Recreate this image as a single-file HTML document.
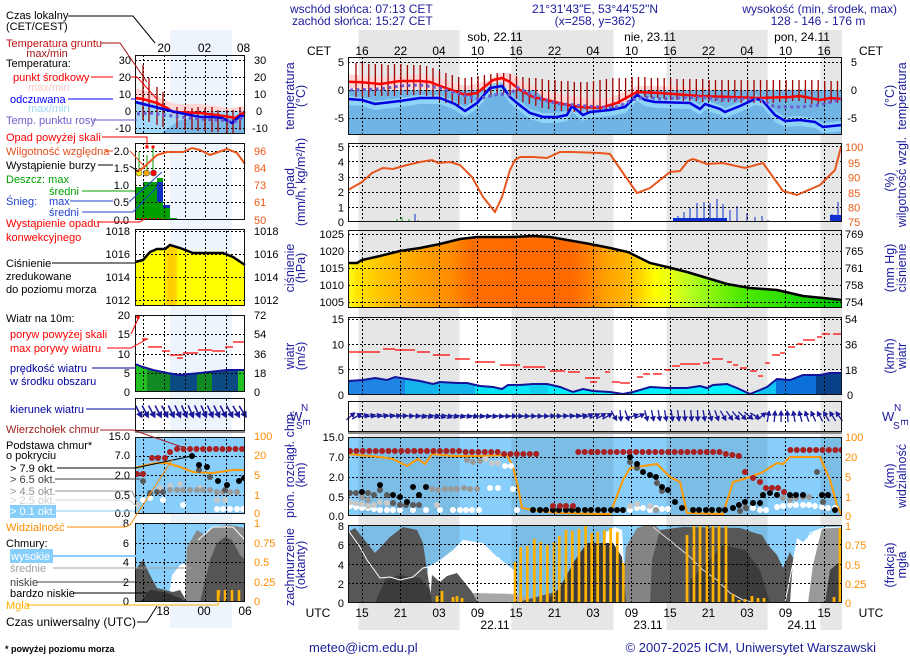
<!DOCTYPE html>
<html><head><meta charset="utf-8"><style>
html,body{margin:0;padding:0;background:#fff}
svg{display:block}
text{font-family:"Liberation Sans",Arial,sans-serif;font-size:11px}
.n{fill:#1c1c9c}
.h{font-size:12px}
.at{font-size:12.5px;fill:#1c1c9c}
.g{fill:none;stroke:#000;stroke-width:1;stroke-dasharray:2 2}
.fr{fill:none;stroke:#111;stroke-width:1}
.ln{fill:none;stroke-width:1}
</style></head><body>
<svg width="910" height="660" viewBox="0 0 910 660" xmlns="http://www.w3.org/2000/svg">
<defs>
<clipPath id="cm">
<rect x="348" y="57" width="494" height="78"/><rect x="348" y="143" width="494" height="79"/><rect x="348" y="230" width="494" height="78"/><rect x="348" y="317" width="494" height="78"/><rect x="348" y="401" width="494" height="31"/><rect x="348" y="437" width="494" height="79"/><rect x="348" y="525" width="494" height="78"/>
</clipPath>
<clipPath id="cs">
<rect x="135" y="55" width="110" height="79"/><rect x="135" y="143" width="110" height="77"/><rect x="135" y="229" width="110" height="77"/><rect x="135" y="315" width="110" height="77"/><rect x="135" y="398" width="110" height="33"/><rect x="135" y="437" width="110" height="77"/><rect x="135" y="523" width="110" height="79"/>
</clipPath>
<linearGradient id="pg" gradientUnits="userSpaceOnUse" x1="348" y1="0" x2="842" y2="0">
<stop offset="0" stop-color="#ffff20"/><stop offset="0.018" stop-color="#ffe400"/><stop offset="0.065" stop-color="#ffc400"/><stop offset="0.13" stop-color="#ffa800"/><stop offset="0.207" stop-color="#ff8c00"/><stop offset="0.253" stop-color="#ff6c00"/><stop offset="0.455" stop-color="#ff6a00"/><stop offset="0.49" stop-color="#ff8400"/><stop offset="0.52" stop-color="#ffa000"/><stop offset="0.567" stop-color="#ffb800"/><stop offset="0.597" stop-color="#ffdc00"/><stop offset="0.621" stop-color="#ffff00"/><stop offset="0.652" stop-color="#e8ff10"/><stop offset="0.692" stop-color="#b8ff20"/><stop offset="0.737" stop-color="#88f510"/><stop offset="0.794" stop-color="#50ea00"/><stop offset="0.875" stop-color="#30e000"/><stop offset="0.925" stop-color="#18d400"/><stop offset="1" stop-color="#00c000"/>
</linearGradient>
<linearGradient id="wg" gradientUnits="userSpaceOnUse" x1="348" y1="0" x2="842" y2="0">
<stop offset="0" stop-color="#1f84e2"/><stop offset="0.115" stop-color="#1f84e2"/><stop offset="0.115" stop-color="#14b4ec"/><stop offset="0.257" stop-color="#14b4ec"/><stop offset="0.257" stop-color="#00e6f8"/><stop offset="0.368" stop-color="#00e6f8"/><stop offset="0.368" stop-color="#10d0f0"/><stop offset="0.405" stop-color="#10d0f0"/><stop offset="0.405" stop-color="#00eefe"/><stop offset="0.83" stop-color="#00f2ff"/><stop offset="0.83" stop-color="#10c4f2"/><stop offset="0.866" stop-color="#10c4f2"/><stop offset="0.866" stop-color="#0a70d8"/><stop offset="0.947" stop-color="#0a70d8"/><stop offset="0.947" stop-color="#0a3f8a"/><stop offset="1" stop-color="#0a3f8a"/>
</linearGradient>
<linearGradient id="swg" gradientUnits="userSpaceOnUse" x1="135" y1="0" x2="245" y2="0">
<stop offset="0" stop-color="#22c022"/><stop offset="0.11" stop-color="#22c022"/><stop offset="0.11" stop-color="#118a22"/><stop offset="0.318" stop-color="#118a22"/><stop offset="0.318" stop-color="#0c4a84"/><stop offset="0.564" stop-color="#0c4a84"/><stop offset="0.564" stop-color="#118a22"/><stop offset="0.7" stop-color="#118a22"/><stop offset="0.7" stop-color="#0c4a84"/><stop offset="0.936" stop-color="#0c4a84"/><stop offset="0.936" stop-color="#22c022"/><stop offset="1" stop-color="#22c022"/>
</linearGradient>
<linearGradient id="spg" gradientUnits="userSpaceOnUse" x1="135" y1="0" x2="245" y2="0">
<stop offset="0" stop-color="#ffff00"/><stop offset="0.26" stop-color="#ffff00"/><stop offset="0.3" stop-color="#ffd000"/><stop offset="0.36" stop-color="#ffd000"/><stop offset="0.4" stop-color="#ffff00"/><stop offset="1" stop-color="#ffff00"/>
</linearGradient>
<g id="a"><path d="M-6,0H2" stroke="#1a1a9a" stroke-width="1.3"/><path d="M6,0L0.5,-3L0.5,3Z" fill="#1a1a9a"/></g>
</defs>

<!-- background bands -->
<rect x="170" y="30" width="62" height="598" fill="#eef4fc"/>
<g fill="#e6e6e6">
<rect x="358.5" y="30" width="101" height="600"/><rect x="511.5" y="30" width="102" height="600"/><rect x="666.5" y="30" width="101" height="600"/><rect x="820.5" y="30" width="21.5" height="600"/>
</g>

<!-- header -->
<text class="n h" x="290" y="13">wschód słońca: 07:13 CET</text>
<text class="n h" x="292" y="25">zachód słońca: 15:27 CET</text>
<text class="n h" x="595" y="13" text-anchor="middle">21°31'43"E, 53°44'52"N</text>
<text class="n h" x="595" y="25" text-anchor="middle">(x=258, y=362)</text>
<text class="n h" x="897" y="13" text-anchor="end">wysokość (min, środek, max)</text>
<text class="n h" x="818" y="25" text-anchor="middle">128 - 146 - 176 m</text>
<g class="h" text-anchor="middle">
<text x="495" y="41" class="h">sob, 22.11</text><text x="650" y="41" class="h">nie, 23.11</text><text x="802" y="41" class="h">pon, 24.11</text>
<text x="319" y="55" class="h">CET</text><text x="871" y="55" class="h">CET</text>
<text x="362" y="55" class="h">16</text><text x="400.5" y="55" class="h">22</text><text x="439" y="55" class="h">04</text><text x="477.5" y="55" class="h">10</text><text x="516" y="55" class="h">16</text><text x="554.5" y="55" class="h">22</text><text x="593" y="55" class="h">04</text><text x="631.5" y="55" class="h">10</text><text x="670" y="55" class="h">16</text><text x="708.5" y="55" class="h">22</text><text x="747" y="55" class="h">04</text><text x="785.5" y="55" class="h">10</text><text x="824" y="55" class="h">16</text>
<text x="318" y="617" class="h">UTC</text><text x="871" y="617" class="h">UTC</text>
<text x="362" y="617" class="h">15</text><text x="400.5" y="617" class="h">21</text><text x="439" y="617" class="h">03</text><text x="477.5" y="617" class="h">09</text><text x="516" y="617" class="h">15</text><text x="554.5" y="617" class="h">21</text><text x="593" y="617" class="h">03</text><text x="631.5" y="617" class="h">09</text><text x="670" y="617" class="h">15</text><text x="708.5" y="617" class="h">21</text><text x="747" y="617" class="h">03</text><text x="785.5" y="617" class="h">09</text><text x="824" y="617" class="h">15</text>
<text x="495" y="629" class="h">22.11</text><text x="648" y="629" class="h">23.11</text><text x="802" y="629" class="h">24.11</text>
</g>

<!-- ============ MAIN FILLS ============ -->
<polygon fill="#ffd6d6" points="348,74 380,77 420,74 440,78 465,86 490,80 500,73 510,73 520,80 545,92 600,100 617,95 637,86 660,86 700,88 760,90 800,89 842,91 842,104 800,103 760,103 700,101 660,98 637,97 617,110 600,114 560,110 530,100 515,92 500,86 490,93 465,100 440,92 420,87 380,90 348,88"/>
<polygon fill="#70b4e6" points="348,90 535,90 545,99 560,104 600,108 617,108 630,100 637,92 640,90 842,90 842,135 348,135"/>
<polygon fill="#8fd3f8" points="348,96 362,97 375,101 400,98 420,95 440,95 455,101 465,107 477,99 490,84 502,82 510,93 517,99 530,109 543,113 557,113 567,111 572,102 583,111 590,108 610,106 625,103 637,91 645,96 655,98 690,99 700,105 705,100 720,105 725,108 740,102 755,95 762,96 775,111 785,117 800,116 815,118 823,123 842,121 842,131 823,133 815,128 800,126 785,127 775,122 762,106 755,105 740,112 725,118 720,115 705,110 700,115 690,109 655,108 645,106 637,101 625,113 610,116 590,118 583,121 572,112 567,121 557,123 543,123 530,119 517,109 510,103 502,92 490,94 477,109 465,117 455,110 440,104 420,104 400,107 375,110 362,106 348,105"/>
<path stroke="#1a9a1a" stroke-width="1" d="M397 219V222M402 217V222M409 219V222M418 220V222"/>
<path stroke="#1030d0" stroke-width="1" d="M415 214V222M678 216V222M684 212V222M690 208V222M697 203V222M704 202V222M710 203V222M717 199V222M723 204V222M730 210V222M737 206V222M747 213V222M755 217V222M762 216V222M768 220V222M832 214V222M838 202V222"/>
<rect x="673" y="218" width="54" height="4" fill="#1030d0"/><rect x="830" y="215" width="12" height="7" fill="#1030d0"/>
<polygon fill="url(#pg)" points="348,263 357,263 362,260 380,256 400,251 420,248 440,244 460,239 477,237 500,237 513,237 533,236 550,237 573,241 590,244 610,248 628,252 650,263 667,267 687,272 707,278 727,284 750,288 777,290 803,296 823,298 842,300 842,308 348,308"/>
<polygon fill="url(#wg)" points="348,381 363,380 375,378 387,380 395,377 407,379 420,381 433,384 440,382 457,383 467,383 480,386 493,387 502,389 508,385 520,385 533,384 547,384 560,387 573,392 583,389 593,391 610,392 623,394 633,392 650,387 667,388 687,388 700,386 707,388 713,385 727,384 737,388 750,394 760,390 767,387 777,379 790,380 803,375 820,375 830,373 842,373 842,395 348,395"/>
<rect x="348" y="437" width="494" height="79" fill="#87cefa"/>
<rect x="348" y="525" width="494" height="78" fill="#87cefa"/>
<g fill="#000" fill-opacity="0.08">
<rect x="358.5" y="437" width="101" height="79"/><rect x="511.5" y="437" width="102" height="79"/><rect x="666.5" y="437" width="101" height="79"/><rect x="820.5" y="437" width="21.5" height="79"/>
<rect x="358.5" y="525" width="101" height="78"/><rect x="511.5" y="525" width="102" height="78"/><rect x="666.5" y="525" width="101" height="78"/><rect x="820.5" y="525" width="21.5" height="78"/>
</g>
<g clip-path="url(#cm)">
<polygon fill="#fff" points="425,603 428,567 440,560 453,550 463,540 483,543 495,555 510,567 516,572 518,603"/>
<polygon fill="#fff" points="603,603 606,532 615,527 622,530 626,603"/>
<polygon fill="#a8a8a8" points="440,603 455,597 473,593 513,594 530,598 540,603"/>
<polygon fill="#a8a8a8" points="622,603 628,570 640,560 650,575 655,603"/>
<polygon fill="#858585" points="622,603 626,547 637,528 653,523 667,537 680,560 690,603"/>
<polygon fill="#575757" points="348,532 355,528 375,553 390,537 403,527 417,530 423,543 428,577 432,603 348,603"/>
<polygon fill="#575757" points="430,603 432,575 440,582 447,576 457,573 465,583 472,592 478,603"/>
<polygon fill="#575757" points="515,603 540,596 563,590 580,570 595,545 605,543 612,560 618,603"/>
<polygon fill="#575757" points="650,603 652,560 660,530 683,527 740,528 755,533 762,535 768,545 777,555 783,568 790,552 793,558 800,547 805,555 810,548 815,540 822,528 842,527 842,603"/>
<polygon fill="#fff" points="790,603 793,560 797,538 803,542 810,535 817,530 822,528 825,603"/>
<polygon fill="#999" points="808,603 813,565 822,528 842,527 842,603"/>
<polygon fill="#3c3c3c" points="375,603 385,580 400,575 420,578 430,590 432,603"/>
<polygon fill="#3c3c3c" points="545,603 560,587 575,560 587,543 600,543 613,543 622,557 626,603"/>
<polygon fill="#3c3c3c" points="690,603 690,580 705,565 723,545 745,550 760,570 770,603"/>
<polygon fill="#444" points="825,603 830,570 842,560 842,603"/>
<polyline class="ln" stroke="#fff" points="348,530 360,547 367,560 380,578 390,577 400,580 413,577 423,568 440,565 470,560 500,558"/>
<polyline class="ln" stroke="#ddd" points="653,527 673,543 690,557 703,570 717,580 730,593 743,600 757,603"/>
<polyline class="ln" stroke="#fff" points="785,603 793,563 803,553 810,533 823,528 842,527"/>
</g>
<path stroke="#ffb300" stroke-width="2.7" d="M437 596V603M442 591V603M453 597V603M457 596V603M462 598V603M515 562V603M520.7 547V603M527.3 546V603M534.3 539V603M540.7 542V603M547.3 545V603M554 542V603M559.3 536V603M566 530V603M572.3 531V603M579 529V603M585.7 526V603M591.7 533V603M597.7 532V603M604.3 530V603M610.7 528V603M617.3 532V603M623.3 563V603M687 535V603M694 526V603M700 526V603M707 526V603M713 526V603M719 526V603M726 526V603M733 594V603M739 600V603M745 599V603M752 596V603M758 598V603M764 598V603M834 597V603M840 528V603"/>

<!-- ============ MINI FILLS ============ -->
<polygon fill="#ffd6d6" points="135,88 150,92 165,100 175,104 200,104 230,108 245,106 245,113 200,115 175,114 150,104 135,101"/>
<polygon fill="#a3d9f9" points="135,100 160,104 175,111 245,111 245,134 135,134"/>
<polygon fill="#78b8e8" points="160,134 180,120 210,118 245,118 245,134"/>
<path fill="#00a000" d="M135,220V187H143V182H157V178H163V220ZM163,220V207H170V218H177V220Z"/>
<rect x="157" y="182" width="6" height="20" fill="#1030c0"/><rect x="163" y="205" width="7" height="3" fill="#1030c0"/>
<polygon fill="url(#spg)" points="135,262 143,260 150,252 157,249 165,249 170,245 180,248 193,253 223,253 233,257 245,265 245,306 135,306"/>
<polygon fill="url(#swg)" points="135,364 143,367 153,370 167,373 180,375 200,373 227,370 245,370 245,392 135,392"/>
<rect x="135" y="437" width="110" height="77" fill="#87cefa"/>
<rect x="135" y="523" width="110" height="79" fill="#87cefa"/>
<polygon fill="#fff" points="168,602 172,575 180,565 188,562 195,602"/>
<polygon fill="#888" points="185,602 187,547 197,530 205,535 213,527 230,525 245,528 245,602"/>
<polygon fill="#555" points="135,602 135,570 143,560 150,575 157,588 165,590 173,592 180,590 187,602"/>
<polygon fill="#333" points="140,602 150,590 165,592 180,598 185,602"/>
<polygon fill="#555" points="200,602 210,560 217,543 225,537 232,540 240,555 245,560 245,602"/>
<polyline class="ln" stroke="#fff" points="198,540 213,527 233,527 245,540"/>
<path stroke="#ffb300" stroke-width="2.5" d="M218 590V602M225 590V602M232 590V602M239 590V602"/>

<!-- ============ GRIDS ============ -->
<path class="g" clip-path="url(#cm)" d="M362.5 57V603M400.5 57V603M439.5 57V603M477.5 57V603M516.5 57V603M554.5 57V603M593.5 57V603M631.5 57V603M670.5 57V603M708.5 57V603M747.5 57V603M785.5 57V603M824.5 57V603M348 62.5H842M348 90.5H842M348 118.5H842M348 146.5H842M348 161.5H842M348 177.5H842M348 192.5H842M348 207.5H842M348 234.5H842M348 251.5H842M348 268.5H842M348 285.5H842M348 302.5H842M348 319.5H842M348 344.5H842M348 369.5H842M348 457.5H842M348 477.5H842M348 497.5H842M348 544.5H842M348 564.5H842M348 583.5H842"/>
<path class="g" clip-path="url(#cs)" d="M143.5 55V602M164.5 55V602M185.5 55V602M205.5 55V602M226.5 55V602M135 60.5H245M135 77.5H245M135 94.5H245M135 111.5H245M135 128.5H245M135 151.5H245M135 168.5H245M135 185.5H245M135 202.5H245M135 231.5H245M135 254.5H245M135 277.5H245M135 300.5H245M135 334.5H245M135 354.5H245M135 373.5H245M135 456.5H245M135 475.5H245M135 495.5H245M135 543.5H245M135 562.5H245M135 582.5H245"/>

<!-- ============ MAIN LINES ============ -->
<path stroke="#a00000" stroke-width="1.3" d="M356 63V97M362.4 63V97M368.8 64V97M375.3 64V96M381.7 64V96M388.1 65V96M394.5 64V96M400.9 64V95M407.4 65V95M413.8 65V95M420.2 65V95M426.6 66V96M433 68V99M439.5 71V101M445.9 73V103M452.3 75V104M458.7 77V105M465.1 78V104M471.6 77V103M478 76V100M484.4 75V99M490.8 74V96M497.2 73V94M503.7 73V93M510.1 74V95M516.5 76V99M522.9 77V102M529.3 78V104M535.8 78V106M542.2 79V108M548.6 80V109M555 80V110M561.4 81V111M567.9 81V112M574.3 82V112M580.7 82V112M587.1 82V112M593.5 81V112M600 80V112M606.4 79V110M612.8 78V108M619.2 78V104M625.6 78V100M632.1 77V97M638.5 77V97M644.9 77V97M651.3 78V98M657.7 78V98M664.2 78V99M670.6 78V100M677 79V100M683.4 79V101M689.8 79V101M696.3 79V101M702.7 79V102M709.1 80V101M715.5 80V101M721.9 80V102M728.4 80V102M734.8 80V102M741.2 80V103M747.6 80V103M754 80V103M760.5 80V103M766.9 80V103M773.3 80V103M779.7 80V102M786.1 80V102M792.6 80V101M799 80V101M805.4 80V103M811.8 80V104M818.2 80V104M824.7 81V104M831.1 81V103M837.5 81V103"/>
<polyline fill="none" stroke="#ff0000" stroke-width="2.5" points="348,81.7 362,82.3 380,84 400,81 420,81 430,82 440,86 455,91 465,95 477,93 493,80 502,78 510,82 520,90 533,97 547,100 563,104 580,107 600,108 617,103 637,92 660,93 700,96 730,97 760,98 790,97 800,96 820,100 830,98 842,99"/>
<polyline fill="none" stroke="#0000e0" stroke-width="2.5" points="348,99 362,100 375,104 400,101 420,98 440,98 455,104 465,111 477,103 490,88 502,86 510,97 517,103 530,113 543,117 557,117 567,115 572,106 583,115 590,112 610,110 625,107 637,95 645,100 655,102 690,103 700,109 705,104 720,109 725,112 740,106 755,99 762,100 775,115 785,121 800,120 815,122 823,127 842,125"/>
<polyline fill="none" stroke="#6a5acd" stroke-width="3" stroke-dasharray="3 3.4" points="350,90 380,89 400,86 420,85 440,88 455,93 470,97 477,99 490,96 500,94 510,95 517,87 530,94 540,99 560,104 600,107 617,107 632,100 645,97 660,99 680,98 700,97 720,99 760,99 775,107 800,107 820,105 842,99"/>
<polyline fill="none" stroke="#e8561e" stroke-width="2" points="348,190 362,182 372,173 383,168 393,169 407,165 420,162 432,160 438,163 450,162 460,165 472,177 483,197 495,212 502,197 510,170 515,160 520,157 533,157 547,158 560,152 573,152 600,153 610,154 623,173 637,193 650,188 670,172 680,171 688,161 693,159 707,164 723,163 745,168 763,163 783,191 797,195 820,185 835,170 841,147"/>
<polyline fill="none" stroke="#000" stroke-width="2.5" points="348,263 357,263 362,260 380,256 400,251 420,248 440,244 460,239 477,237 500,237 513,237 533,236 550,237 573,241 590,244 610,248 628,252 650,263 667,267 687,272 707,278 727,284 750,288 777,290 803,296 823,298 842,300"/>
<path stroke="#ff0000" stroke-width="1.3" d="M348 352H380M383 349H395M395 350H415M417 352H430M433 355H450M455 359H470M475 362H495M500 365H520M523 367H545M550 371H565M568 372H580M585 378H600M590 382H597M605 372H610M612 382H620M620 383H630M637 377H643M643 374H650M653 374H662M665 370H670M672 366H680M680 364H690M690 364H700M703 363H710M712 359H717M717 359H723M727 362H732M733 365H738M740 368H747M750 371H757M758 376H763M765 363H770M772 355H780M780 353H785M788 347H795M797 344H803M803 340H815M817 337H822M822 334H830M833 334H841"/>
<polyline fill="none" stroke="#12129a" stroke-width="2" points="348,381 363,380 375,378 387,380 395,377 407,379 420,381 433,384 440,382 457,383 467,383 480,386 493,387 502,389 508,385 520,385 533,384 547,384 560,387 573,392 583,389 593,391 610,392 623,394 633,392 650,387 667,388 687,388 700,386 707,388 713,385 727,384 737,388 750,394 760,390 767,387 777,379 790,380 803,375 820,375 830,373 842,373"/>
<g>
<use href="#a" transform="translate(351,416) rotate(-40)"/><use href="#a" transform="translate(357.4,416) rotate(-30)"/><use href="#a" transform="translate(363.8,416) rotate(-15)"/><use href="#a" transform="translate(370.3,416) rotate(-15)"/><use href="#a" transform="translate(376.7,416) rotate(-15)"/><use href="#a" transform="translate(383.1,416) rotate(-12)"/><use href="#a" transform="translate(389.5,416) rotate(-10)"/><use href="#a" transform="translate(395.9,416) rotate(-8)"/><use href="#a" transform="translate(402.4,416) rotate(-5)"/><use href="#a" transform="translate(408.8,416) rotate(0)"/><use href="#a" transform="translate(415.2,416) rotate(5)"/>
<use href="#a" transform="translate(421.6,416) rotate(15)"/><use href="#a" transform="translate(428,416) rotate(15)"/><use href="#a" transform="translate(434.5,416) rotate(18)"/><use href="#a" transform="translate(440.9,416) rotate(18)"/><use href="#a" transform="translate(447.3,416) rotate(18)"/><use href="#a" transform="translate(453.7,416) rotate(15)"/><use href="#a" transform="translate(460.1,416) rotate(15)"/><use href="#a" transform="translate(466.6,416) rotate(12)"/><use href="#a" transform="translate(473,416) rotate(12)"/><use href="#a" transform="translate(479.4,416) rotate(10)"/><use href="#a" transform="translate(485.8,416) rotate(10)"/><use href="#a" transform="translate(492.2,416) rotate(8)"/><use href="#a" transform="translate(498.7,416) rotate(8)"/><use href="#a" transform="translate(505.1,416) rotate(6)"/><use href="#a" transform="translate(511.5,416) rotate(5)"/>
<use href="#a" transform="translate(517.9,416) rotate(5)"/><use href="#a" transform="translate(524.3,416) rotate(5)"/><use href="#a" transform="translate(530.8,416) rotate(3)"/><use href="#a" transform="translate(537.2,416) rotate(3)"/><use href="#a" transform="translate(543.6,416) rotate(3)"/><use href="#a" transform="translate(550,416) rotate(0)"/><use href="#a" transform="translate(556.4,416) rotate(0)"/><use href="#a" transform="translate(562.9,416) rotate(-3)"/><use href="#a" transform="translate(569.3,416) rotate(-5)"/><use href="#a" transform="translate(575.7,416) rotate(-8)"/><use href="#a" transform="translate(582.1,416) rotate(-12)"/><use href="#a" transform="translate(588.5,416) rotate(-25)"/><use href="#a" transform="translate(595,416) rotate(-25)"/><use href="#a" transform="translate(601.4,416) rotate(-28)"/><use href="#a" transform="translate(607.8,416) rotate(-30)"/>
<use href="#a" transform="translate(614.2,416) rotate(60)"/><use href="#a" transform="translate(620.6,416) rotate(85)"/><use href="#a" transform="translate(627.1,416) rotate(70)"/><use href="#a" transform="translate(633.5,416) rotate(-20)"/><use href="#a" transform="translate(639.9,416) rotate(-25)"/><use href="#a" transform="translate(646.3,416) rotate(75)"/><use href="#a" transform="translate(652.7,416) rotate(78)"/><use href="#a" transform="translate(659.2,416) rotate(80)"/><use href="#a" transform="translate(665.6,416) rotate(80)"/><use href="#a" transform="translate(672,416) rotate(82)"/><use href="#a" transform="translate(678.4,416) rotate(82)"/><use href="#a" transform="translate(684.8,416) rotate(85)"/><use href="#a" transform="translate(691.3,416) rotate(85)"/><use href="#a" transform="translate(697.7,416) rotate(88)"/><use href="#a" transform="translate(704.1,416) rotate(80)"/><use href="#a" transform="translate(710.5,416) rotate(75)"/><use href="#a" transform="translate(716.9,416) rotate(70)"/>
<use href="#a" transform="translate(723.4,416) rotate(60)"/><use href="#a" transform="translate(729.8,416) rotate(55)"/><use href="#a" transform="translate(736.2,416) rotate(50)"/><use href="#a" transform="translate(742.6,416) rotate(45)"/><use href="#a" transform="translate(749,416) rotate(40)"/><use href="#a" transform="translate(755.5,416) rotate(30)"/><use href="#a" transform="translate(761.9,416) rotate(-40)"/><use href="#a" transform="translate(768.3,416) rotate(-80)"/><use href="#a" transform="translate(774.7,416) rotate(-85)"/><use href="#a" transform="translate(781.1,416) rotate(-90)"/><use href="#a" transform="translate(787.6,416) rotate(-95)"/><use href="#a" transform="translate(794,416) rotate(-100)"/><use href="#a" transform="translate(800.4,416) rotate(-105)"/><use href="#a" transform="translate(806.8,416) rotate(-110)"/><use href="#a" transform="translate(813.2,416) rotate(-115)"/><use href="#a" transform="translate(819.7,416) rotate(-118)"/><use href="#a" transform="translate(826.1,416) rotate(-120)"/><use href="#a" transform="translate(832.5,416) rotate(-122)"/><use href="#a" transform="translate(838.9,416) rotate(-125)"/>
</g>
<polyline fill="none" stroke="#ff9900" stroke-width="2" points="348,454 380,457 393,459 407,466 418,459 425,464 432,454 453,456 480,456 507,455 513,467 518,487 522,508 533,510 547,512 563,513 600,514 610,514 623,480 630,468 657,464 670,477 680,482 687,513 723,514 733,482 747,478 763,472 777,463 783,464 790,457 820,457 830,480 837,505 841,514"/>
<g fill="none" stroke-linecap="round" stroke-width="6" clip-path="url(#cm)">
<path stroke="#fff" d="M350 506h0M356 507h0M362 508h0M368 508h0M374 509h0M380 510h0M387 510h0M393 510h0M400 510h0M413 510h0M426 510h0M440 510h0M453 510h0M460 510h0M466 510h0M472 510h0M479 510h0M490 488h0M498 488h0M513 489h0M505 466h0M511 466h0M517 510h0M630 510h0M637 508h0M643 508h0M650 510h0M656 508h0M662 509h0M668 509h0M777 507h0M783 506h0M790 505h0M796 505h0M803 505h0M809 505h0M815 506h0M822 507h0M828 508h0M835 508h0M753 508h0M760 510h0M766 510h0"/>
<path stroke="#c8c8c8" d="M350 502h0M356 503h0M362 504h0M368 506h0M374 505h0M380 502h0M387 503h0M486 459h0M492 463h0M498 463h0M437 505h0M630 506h0M637 504h0M650 506h0"/>
<path stroke="#999" d="M432 489h0M438 490h0M445 489h0M451 489h0M457 489h0M464 488h0M470 489h0M477 489h0M467 460h0M473 462h0M480 461h0M783 498h0M790 500h0M796 498h0M803 497h0M809 497h0M362 497h0M368 500h0M656 510h0M745 507h0"/>
<path stroke="#5a5a5a" d="M350 493h0M356 493h0M368 493h0M374 495h0M387 495h0M393 503h0M400 505h0M406 505h0M413 505h0M419 505h0M380 490h0M630 462h0M637 468h0M657 483h0M662 491h0M817 472h0M823 502h0M740 511h0M746 508h0"/>
<path stroke="#000" d="M362 492h0M380 485h0M393 495h0M400 497h0M407 502h0M413 487h0M419 495h0M426 487h0M533 510h0M540 510h0M546 510h0M553 510h0M559 510h0M566 510h0M572 510h0M578 510h0M585 510h0M591 510h0M598 510h0M604 510h0M611 510h0M617 510h0M623 510h0M630 457h0M637 464h0M643 472h0M650 475h0M656 477h0M662 487h0M668 490h0M675 502h0M682 508h0M693 510h0M699 510h0M706 510h0M712 510h0M719 510h0M725 510h0M733 508h0M739 505h0M745 502h0M753 503h0M760 503h0M763 495h0M770 493h0M777 495h0M790 495h0M796 495h0M803 495h0M822 495h0M828 495h0M835 510h0"/>
<path stroke="#a82020" d="M350 451h0M356.4 451h0M362.8 451h0M369.3 451h0M375.7 451h0M382.1 451h0M388.5 451h0M394.9 451h0M401.4 451h0M407.8 451h0M414.2 451h0M420.6 451h0M427 451h0M433.5 451h0M439.9 451h0M446.3 451h0M452.7 451h0M459.1 451h0M465.6 452h0M472 452h0M478.4 452h0M484.8 452h0M491.2 452h0M497.7 452h0M504.1 454h0M510.5 454h0M516.9 454h0M523.3 454h0M529.8 454h0M536.2 454h0M578.3 452h0M584.7 452h0M591.1 452h0M597.5 452h0M604 452h0M610.4 452h0M616.8 452h0M623.2 452h0M629.6 452h0M636.1 452h0M642.5 452h0M648.9 452h0M655.3 452h0M661.7 452h0M668.2 452h0M674.6 452h0M681 452h0M687.4 452h0M693.8 452h0M700.3 452h0M706.7 452h0M713.1 452h0M719.5 452h0M725.9 454h0M732.4 455h0M738.8 456h0M745 472h0M753 478h0M760 482h0M766 488h0M772 488h0M778 488h0M784 492h0M790.4 450h0M796.8 450h0M803.2 450h0M809.7 450h0M816.1 450h0M822.5 450h0M828.9 450h0M835.4 450h0M841.5 450h0M553 506h0M560 506h0M566 506h0M573 506h0"/>
</g>

<!-- ============ MINI LINES ============ -->
<path stroke="#a00000" stroke-width="1.3" d="M143 65V120M149 78V122M157 87V125M163 92V127M177 107V128M185 107V130M192 108V130M198 107V131M205 108V131M212 107V132M218 110V132M227 110V133M233 110V133M240 107V130"/>
<polyline fill="none" stroke="#ff0000" stroke-width="2.5" points="135,98 143,99 157,103 167,108 173,112 200,113 217,115 230,117 235,118 240,115 245,112"/>
<polyline fill="none" stroke="#0000e0" stroke-width="2.5" points="135,102 147,105 167,110 180,113 200,117 213,117 222,118 232,123 240,116 245,116"/>
<polyline fill="none" stroke="#6a5acd" stroke-width="3" stroke-dasharray="3 3.5" points="137,114 150,113 165,115 180,117 200,119 220,120 235,122 245,116"/>
<path stroke="#00a000" stroke-width="1" d="M139 152V171M147 155V171M153 148V171"/>
<rect x="145.5" y="145.5" width="3" height="3" fill="#f00"/><rect x="151.5" y="145.5" width="3" height="3" fill="#f00"/>
<circle cx="139" cy="173" r="3" fill="#ffee00" stroke="#555" stroke-width="0.6"/><circle cx="146.5" cy="173" r="3" fill="#ffa500" stroke="#555" stroke-width="0.6"/><circle cx="153.5" cy="173" r="3" fill="#f00" stroke="#555" stroke-width="0.6"/>
<path stroke="#f00" stroke-width="2" stroke-dasharray="2 2" d="M137 219H162"/>
<polyline fill="none" stroke="#e8561e" stroke-width="2" points="135,172 143,168 157,155 167,152 183,152 192,148 200,150 210,155 227,149 237,153 245,164"/>
<polyline fill="none" stroke="#000" stroke-width="2.5" points="135,262 143,260 150,252 157,249 165,249 170,245 180,248 193,253 223,253 233,257 245,265"/>
<polyline fill="none" stroke="#12129a" stroke-width="2" points="135,364 143,367 153,370 167,373 180,375 200,373 227,370 245,370"/>
<path stroke="#ff0000" stroke-width="1.3" d="M142 339H148M148 347H162M162 351H170M170 355H183M177 358H183M183 353H198M198 350H212M212 351H225M225 347H233M233 342H245"/>
<circle cx="138" cy="317" r="1.8" fill="#f00"/>
<g>
<use href="#a" transform="translate(139,412) rotate(62) scale(1.2)"/><use href="#a" transform="translate(145.5,412) rotate(62) scale(1.2)"/><use href="#a" transform="translate(152,412) rotate(62) scale(1.2)"/><use href="#a" transform="translate(158.5,412) rotate(62) scale(1.2)"/><use href="#a" transform="translate(165,412) rotate(63) scale(1.2)"/><use href="#a" transform="translate(171.5,412) rotate(64) scale(1.2)"/><use href="#a" transform="translate(178,412) rotate(65) scale(1.2)"/><use href="#a" transform="translate(184.5,412) rotate(66) scale(1.2)"/><use href="#a" transform="translate(191,412) rotate(67) scale(1.2)"/><use href="#a" transform="translate(197.5,412) rotate(67) scale(1.2)"/><use href="#a" transform="translate(204,412) rotate(66) scale(1.2)"/><use href="#a" transform="translate(210.5,412) rotate(65) scale(1.2)"/><use href="#a" transform="translate(217,412) rotate(64) scale(1.2)"/><use href="#a" transform="translate(223.5,412) rotate(63) scale(1.2)"/><use href="#a" transform="translate(230,412) rotate(62) scale(1.2)"/><use href="#a" transform="translate(236.5,412) rotate(60) scale(1.2)"/><use href="#a" transform="translate(243,412) rotate(58) scale(1.2)"/>
</g>
<polyline fill="none" stroke="#ff9900" stroke-width="2" points="135,468 147,465 157,463 167,463 180,467 193,472 213,473 233,470 245,470"/>
<g fill="none" stroke-linecap="round" stroke-width="6" clip-path="url(#cs)">
<path stroke="#fff" d="M143 500h0M150 498h0M163 500h0M183 505h0M217 509h0M223 509h0M230 509h0M237 509h0M243 509h0"/>
<path stroke="#c8c8c8" d="M137 505h0M160 488h0M170 486h0M180 484h0M200 488h0M217 500h0M225 500h0"/>
<path stroke="#999" d="M170 490h0M177 490h0M183 490h0M190 490h0M197 490h0M203 490h0M210 490h0M217 492h0M223 492h0M230 492h0M237 492h0"/>
<path stroke="#5a5a5a" d="M143 481h0M150 493h0M157 492h0M163 492h0M199 470h0M210 477h0M225 490h0"/>
<path stroke="#000" d="M192 456h0M199 465h0M207 467h0M218 481h0M227 485h0M239 481h0M244 478h0"/>
<path stroke="#a82020" d="M137 474h0M143 474h0M152 458h0M158 458h0M165 458h0M170 452h0M177 449h0M183.5 449h0M190 449h0M196.5 449h0M203 449h0M209.5 449h0M216 449h0M222.5 449h0M229 449h0M235.5 449h0M242 449h0"/>
</g>

<!-- ============ FRAMES ============ -->
<g class="fr">
<rect x="348.5" y="57.5" width="493" height="77"/><rect x="348.5" y="143.5" width="493" height="78"/><rect x="348.5" y="230.5" width="493" height="77"/><rect x="348.5" y="317.5" width="493" height="77"/><rect x="348.5" y="401.5" width="493" height="30"/><rect x="348.5" y="437.5" width="493" height="78"/><rect x="348.5" y="525.5" width="493" height="77"/>
<rect x="135.5" y="55.5" width="109" height="78"/><rect x="135.5" y="143.5" width="109" height="76"/><rect x="135.5" y="229.5" width="109" height="76"/><rect x="135.5" y="315.5" width="109" height="76"/><rect x="135.5" y="398.5" width="109" height="32"/><rect x="135.5" y="437.5" width="109" height="76"/><rect x="135.5" y="523.5" width="109" height="78"/>
</g>
<path stroke="#888" stroke-width="2" d="M348 433H842M135 432H245"/>

<!-- ============ MAIN AXIS LABELS ============ -->
<g text-anchor="end">
<text x="344" y="66">5</text><text x="344" y="94">0</text><text x="344" y="122">-5</text>
<text x="344" y="151">5</text><text x="344" y="166">4</text><text x="344" y="181">3</text><text x="344" y="196">2</text><text x="344" y="211.5">1</text><text x="344" y="226">0</text>
<text x="344" y="238">1025</text><text x="344" y="255">1020</text><text x="344" y="272">1015</text><text x="344" y="289">1010</text><text x="344" y="306">1005</text>
<text x="344" y="323">15</text><text x="344" y="348.5">10</text><text x="344" y="374">5</text><text x="344" y="399">0</text>
<text x="344" y="441">15.0</text><text x="344" y="461">7.0</text><text x="344" y="481">2.0</text><text x="344" y="501">0.5</text><text x="344" y="520">0.0</text>
<text x="344" y="530">8</text><text x="344" y="549">6</text><text x="344" y="569">4</text><text x="344" y="588">2</text><text x="344" y="607">0</text>
<text x="857" y="66">5</text><text x="857" y="94">0</text><text x="857" y="122">-5</text>
</g>
<g fill="#ec5a14">
<text x="845" y="151">100</text><text x="848" y="167">95</text><text x="848" y="181.5">90</text><text x="848" y="197">85</text><text x="848" y="211.5">80</text><text x="848" y="226">75</text>
</g>
<g>
<text x="845" y="238">769</text><text x="845" y="255">765</text><text x="845" y="272">761</text><text x="845" y="289">758</text><text x="845" y="306">754</text>
<text x="845" y="323">54</text><text x="845" y="348.5">36</text><text x="845" y="374">18</text><text x="847" y="399">0</text>
</g>
<g fill="#ff8c00">
<text x="845" y="441">100</text><text x="845" y="461">20</text><text x="845" y="481">5</text><text x="845" y="501">1</text><text x="845" y="520">0</text>
<text x="845" y="530">1</text><text x="845" y="549">0.75</text><text x="845" y="569">0.5</text><text x="845" y="588">0.25</text><text x="845" y="607">0</text>
</g>

<!-- axis titles -->
<g text-anchor="middle">
<text class="at" transform="translate(294,96) rotate(-90)">temperatura</text>
<text class="at" transform="translate(305,96) rotate(-90)">(°C)</text>
<text class="at" transform="translate(294,182) rotate(-90)">opad</text>
<text class="at" transform="translate(305,182) rotate(-90)">(mm/h, kg/m²/h)</text>
<text class="at" transform="translate(294,268) rotate(-90)">ciśnienie</text>
<text class="at" transform="translate(305,268) rotate(-90)">(hPa)</text>
<text class="at" transform="translate(294,356) rotate(-90)">wiatr</text>
<text class="at" transform="translate(305,356) rotate(-90)">(m/s)</text>
<text class="at" transform="translate(294,567) rotate(-90)">zachmurzenie</text>
<text class="at" transform="translate(305,565) rotate(-90)">(oktanty)</text>
<text class="at" transform="translate(305,475) rotate(-90)">(km)</text>
<text class="at" transform="translate(894,96) rotate(-90)">(°C)</text>
<text class="at" transform="translate(906,96) rotate(-90)">temperatura</text>
<text class="at" transform="translate(894,182) rotate(-90)">(%)</text>
<text class="at" transform="translate(906,182) rotate(-90)">wilgotność wzgl.</text>
<text class="at" transform="translate(894,268) rotate(-90)">(mm Hg)</text>
<text class="at" transform="translate(906,268) rotate(-90)">ciśnienie</text>
<text class="at" transform="translate(894,356) rotate(-90)">(km/h)</text>
<text class="at" transform="translate(906,356) rotate(-90)">wiatr</text>
<text class="at" transform="translate(894,476) rotate(-90)">(km)</text>
<text class="at" transform="translate(906,476) rotate(-90)">widzialność</text>
<text class="at" transform="translate(894,565) rotate(-90)">(frakcja)</text>
<text class="at" transform="translate(906,565) rotate(-90)">mgła</text>
</g>
<text class="at" transform="translate(294,518) rotate(-90)">pion. rozciągł. chm.</text>
<!-- compass -->
<g fill="#1c1c9c">
<text x="290" y="421" style="font-size:13px">W</text><text x="301" y="411" style="font-size:10px">N</text><text x="296" y="429" style="font-size:10px">S</text><text transform="translate(303,419) rotate(90)" style="font-size:10px">E</text>
<text x="882" y="421" style="font-size:13px">W</text><text x="894" y="411" style="font-size:10px">N</text><text x="893" y="429" style="font-size:10px">S</text><text transform="translate(901,419) rotate(90)" style="font-size:10px">E</text>
</g>

<!-- ============ MINI LABELS ============ -->
<g class="h" text-anchor="middle">
<text x="164" y="52" class="h">20</text><text x="204.5" y="52" class="h">02</text><text x="243.5" y="52" class="h">08</text>
<text x="163" y="615" class="h">18</text><text x="204" y="615" class="h">00</text><text x="245" y="615" class="h">06</text>
</g>
<g text-anchor="end">
<text x="131" y="64">30</text><text x="131" y="81">20</text><text x="131" y="98">10</text><text x="131" y="115">0</text><text x="131" y="132">-10</text>
<text x="129" y="155">2.0</text><text x="129" y="172">1.5</text><text x="129" y="189">1.0</text><text x="129" y="206">0.5</text><text x="129" y="224">0.0</text>
<text x="130" y="235">1018</text><text x="130" y="258">1016</text><text x="130" y="281">1014</text><text x="130" y="304">1012</text>
<text x="130" y="319">20</text><text x="130" y="338">15</text><text x="130" y="358">10</text><text x="130" y="377">5</text><text x="130" y="396">0</text>
<text x="130" y="440">15.0</text><text x="130" y="459">7.0</text><text x="130" y="479">2.0</text><text x="130" y="499">0.5</text><text x="130" y="517">0.0</text>
<text x="129" y="527">8</text><text x="129" y="547">6</text><text x="129" y="566">4</text><text x="129" y="586">2</text><text x="129" y="605">0</text>
</g>
<g>
<text x="254" y="64">30</text><text x="254" y="81">20</text><text x="254" y="98">10</text><text x="256" y="115">0</text><text x="252" y="132">-10</text>
<text x="254" y="235">1018</text><text x="254" y="258">1016</text><text x="254" y="281">1014</text><text x="254" y="304">1012</text>
<text x="254" y="319">72</text><text x="254" y="338">54</text><text x="254" y="358">36</text><text x="254" y="377">18</text><text x="254" y="396">0</text>
</g>
<g fill="#ec5a14"><text x="254" y="155">96</text><text x="254" y="172">84</text><text x="254" y="189">73</text><text x="254" y="206">61</text><text x="254" y="224">50</text></g>
<g fill="#ff8c00">
<text x="254" y="440">100</text><text x="254" y="459">20</text><text x="254" y="479">5</text><text x="254" y="499">1</text><text x="254" y="517">0</text>
<text x="254" y="527">1</text><text x="254" y="547">0.75</text><text x="254" y="566">0.5</text><text x="254" y="586">0.25</text><text x="254" y="605">0</text>
</g>

<!-- ============ LEGEND TEXT ============ -->
<text x="6" y="19">Czas lokalny</text>
<text x="6" y="30">(CET/CEST)</text>
<text x="6" y="47" fill="#c01010">Temperatura gruntu</text>
<text x="47" y="57" fill="#a01818" text-anchor="middle">max/min</text>
<text x="6" y="67">Temperatura:</text>
<text x="13" y="81" fill="#ff0000">punkt środkowy</text>
<text x="28" y="91" fill="#ffc8c8">max/min</text>
<text x="10" y="103" fill="#0000ff">odczuwana</text>
<text x="28" y="112" fill="#a0d8f8">max/min</text>
<text x="6" y="124" fill="#6a5acd">Temp. punktu rosy</text>
<text x="6" y="141" fill="#ff0000">Opad powyżej skali</text>
<text x="6" y="155" fill="#e8501c">Wilgotność względna</text>
<text x="6" y="169">Wystąpienie burzy</text>
<text x="6" y="183" fill="#00a000">Deszcz: max</text>
<text x="49" y="195" fill="#00a000">średni</text>
<text x="6" y="205" fill="#2040d0">Śnieg:</text><text x="49" y="205" fill="#2040d0">max</text>
<text x="49" y="216" fill="#2040d0">średni</text>
<text x="6" y="227" fill="#ff0000">Wystąpienie opadu</text>
<text x="6" y="241" fill="#ff0000">konwekcyjnego</text>
<text x="6" y="267">Ciśnienie</text>
<text x="6" y="280">zredukowane</text>
<text x="6" y="293">do poziomu morza</text>
<text x="6" y="322">Wiatr na 10m:</text>
<text x="10" y="338" fill="#ff0000">poryw powyżej skali</text>
<text x="10" y="352" fill="#ff0000">max porywy wiatru</text>
<text x="10" y="372" fill="#0000a0">prędkość wiatru</text>
<text x="10" y="385" fill="#0000a0">w środku obszaru</text>
<text x="10" y="413" fill="#0000a0">kierunek wiatru</text>
<text x="6" y="433" fill="#a02020">Wierzchołek chmur</text>
<text x="6" y="449">Podstawa chmur*</text>
<text x="6" y="459">o pokryciu</text>
<text x="10" y="472">&gt; 7.9 okt.</text>
<text x="10" y="483" fill="#404040">&gt; 6.5 okt.</text>
<text x="10" y="495" fill="#909090">&gt; 4.5 okt.</text>
<text x="10" y="504" fill="#d0d0d0">&gt; 2.5 okt.</text>
<rect x="10" y="505" width="46" height="13" fill="#87cefa"/>
<text x="10" y="515" fill="#fff">&gt; 0.1 okt.</text>
<text x="6" y="531" fill="#ff8c00">Widzialność</text>
<text x="6" y="547">Chmury:</text>
<rect x="10" y="549" width="43" height="14" fill="#87cefa"/>
<text x="11" y="560" fill="#fff">wysokie</text>
<text x="10" y="572" fill="#a0a0a0">średnie</text>
<text x="10" y="586" fill="#404040">niskie</text>
<text x="10" y="597">bardzo niskie</text>
<text x="6" y="609" fill="#ffb000">Mgła</text>
<text x="6" y="626" class="h">Czas uniwersalny (UTC)</text>
<text x="5" y="652" style="font-size:9px;font-weight:bold">* powyżej poziomu morza</text>

<!-- leader lines -->
<path class="ln" stroke="#000" d="M68 16H133L155 43"/>
<path class="ln" stroke="#a01010" d="M101 43H120L147 82"/>
<path class="ln" stroke="#ff0000" d="M91 77H113M131 77H137L157 99"/>
<path class="ln" stroke="#0000ff" d="M68 99H113M131 99H136"/>
<path class="ln" stroke="#6a5acd" d="M93 120H137"/>
<path class="ln" stroke="#ff0000" d="M102 137H147V146"/>
<path class="ln" stroke="#e8501c" d="M105 151H113M130 151L145 167"/>
<path class="ln" stroke="#000" d="M98 165H113M130 166L139 172"/>
<path class="ln" stroke="#00a000" d="M82 191H135"/>
<path class="ln" stroke="#2040d0" d="M70 201H113M129 202L162 172M82 212H133L160 184"/>
<path class="ln" stroke="#ff0000" d="M97 222H140L146 218"/>
<path class="ln" stroke="#000" d="M52 263H135"/>
<path class="ln" stroke="#ff0000" d="M131 334L139 317M107 348H131L147 339"/>
<path class="ln" stroke="#0000a0" d="M92 368H135M86 409H135"/>
<path class="ln" stroke="#a02020" d="M100 430H133L182 447"/>
<path class="ln" stroke="#000" d="M57 468H135L192 456"/>
<path class="ln" stroke="#404040" d="M55 479H140"/>
<path class="ln" stroke="#909090" d="M55 491H132L137 502"/>
<path class="ln" stroke="#d0d0d0" d="M55 500H130L137 507"/>
<path class="ln" stroke="#87cefa" d="M56 511H135"/>
<path class="ln" stroke="#ff8c00" d="M67 527H125L130 525L172 460"/>
<path stroke="#87cefa" stroke-width="2" d="M53 556H185"/>
<path class="ln" stroke="#a0a0a0" d="M53 568H192"/>
<path class="ln" stroke="#404040" d="M37 582H135"/>
<path class="ln" stroke="#000" d="M73 593H147"/>
<path class="ln" stroke="#ffb000" d="M27 605H218L220 590"/>
<path class="ln" stroke="#000" d="M137 622H147L157 606"/>

<!-- footer -->
<text x="309" y="652" class="n" style="font-size:13px">meteo@icm.edu.pl</text>
<text x="876" y="652" class="n" text-anchor="end" style="font-size:13px">© 2007-2025 ICM, Uniwersytet Warszawski</text>
</svg>
</body></html>
